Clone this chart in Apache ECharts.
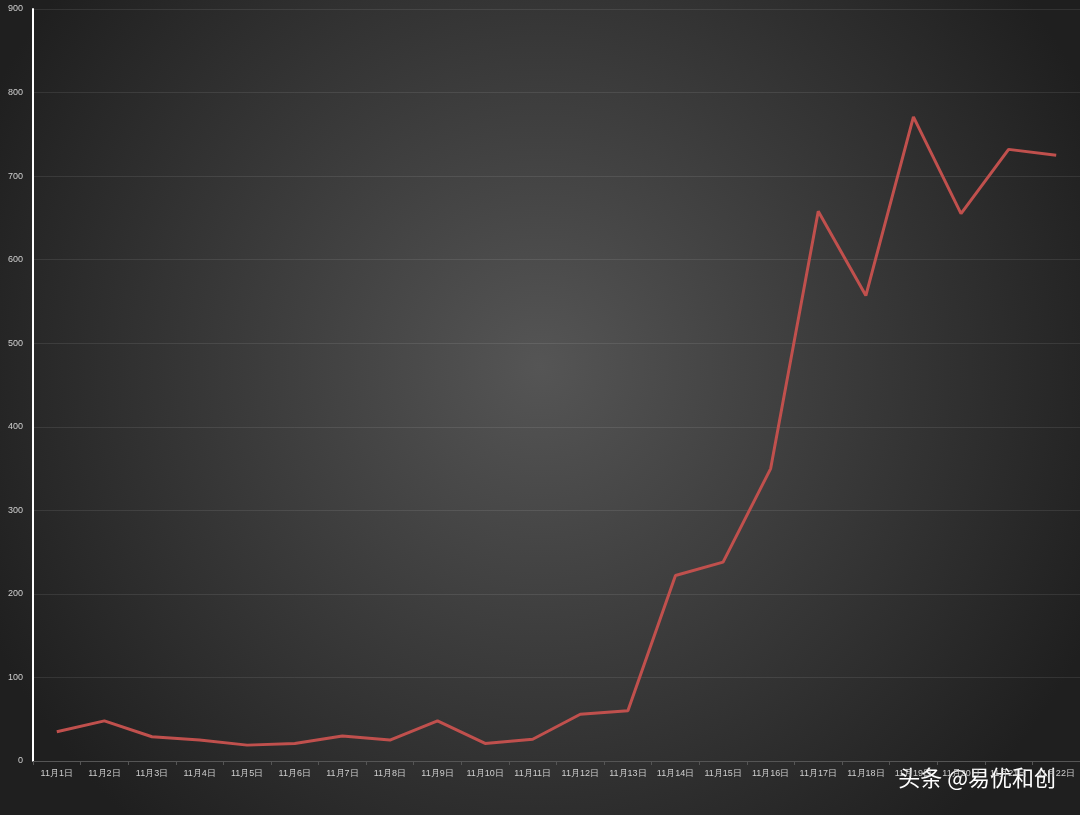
<!DOCTYPE html>
<html>
<head>
<meta charset="utf-8">
<script src="https://cdn.jsdelivr.net/npm/echarts@6/dist/echarts.min.js"></script>
<style>
  html, body { margin: 0; padding: 0; }
  #chart { width: 1080px; height: 815px; }
</style>
</head>
<body>
<div id="chart"></div>
<script>
var categories = ['11月1日', '11月2日', '11月3日', '11月4日', '11月5日', '11月6日', '11月7日', '11月8日',
    '11月9日', '11月10日', '11月11日', '11月12日', '11月13日', '11月14日', '11月15日', '11月16日',
    '11月17日', '11月18日', '11月19日', '11月20日', '11月21日', '11月22日'];
var values = [35, 48, 29, 25, 19, 21, 30, 25, 48, 21, 26, 56, 60, 222, 238, 350, 658, 557, 771, 655, 732, 725];

var chart = echarts.init(document.getElementById('chart'));

var option = {
    animation: false,
    backgroundColor: {
        type: 'radial', x: 0.5, y: 0.45, r: 0.75,
        colorStops: [
            {offset: 0, color: '#555555'},
            {offset: 1, color: '#1f1f1f'}
        ]
    },
    grid: {left: 33, right: 0, top: 9, bottom: 54},
    xAxis: {
        type: 'category',
        data: categories,
        boundaryGap: true,
        axisLine: {lineStyle: {color: '#555555', width: 1}},
        axisTick: {show: true, lineStyle: {color: '#555555'}, length: 4},
        axisLabel: {color: '#cfcfcf', fontSize: 9, margin: 8, interval: 0}
    },
    yAxis: {
        type: 'value',
        min: 0, max: 900, interval: 100,
        axisLine: {show: true, lineStyle: {color: '#ffffff', width: 2}},
        axisTick: {show: false},
        axisLabel: {color: '#cfcfcf', fontSize: 9, margin: 10},
        splitLine: {lineStyle: {color: 'rgba(255,255,255,0.09)', width: 1}}
    },
    series: [{
        type: 'line',
        data: values,
        symbol: 'circle',
        symbolSize: 1,
        showSymbol: true,
        itemStyle: {color: '#c0504d', opacity: 0},
        lineStyle: {color: '#c0504d', width: 3},
        labelLayout: {hideOverlap: false},
        label: {
            show: true,
            position: 'top',
            distance: 10,
            color: '#dedede',
            fontSize: 14,
            fontWeight: 'bold',
            fontFamily: 'Open Sans'
        }
    }],
    graphic: [{
        type: 'text',
        right: 24, bottom: 26,
        style: {
            text: '头条 @易优和创',
            fill: '#ffffff',
            font: '22px "Noto Sans CJK SC"'
        }
    }]
};

option && chart.setOption(option);
</script>
</body>
</html>
